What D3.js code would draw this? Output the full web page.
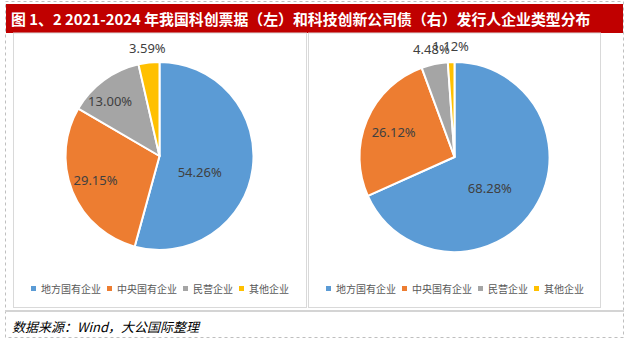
<!DOCTYPE html>
<html><head><meta charset="utf-8">
<script src="https://cdn.jsdelivr.net/npm/d3@7"></script>
<style>
html,body{margin:0;padding:0;background:#fff;}
svg{display:block;}
</style></head>
<body>
<script>
const titleText = "图 1、2 2021-2024 年我国科创票据（左）和科技创新公司债（右）发行人企业类型分布";
const sourceText = "数据来源：Wind，大公国际整理";
const categories = ["地方国有企业", "中央国有企业", "民营企业", "其他企业"];
const leftValues = [54.26, 29.15, 13.00, 3.59];
const rightValues = [68.28, 26.12, 4.48, 1.12];
const colors = ["#5B9BD5", "#ED7D31", "#A5A5A5", "#FFC000"];

// label layout (radius factor, angle nudge in degrees) per slice
const leftLabelLayout = [[0.46, 14], [0.73, 1], [0.78, -6], [1.15, 0]];
const rightLabelLayout = [[0.5, 9], [0.69, -1], [1.16, 0], [1.16, 0]];

const W = 629, H = 343;
const svg = d3.select("body").append("svg").attr("width", W).attr("height", H);

// outer dashed frame
svg.append("rect").attr("x", 5.5).attr("y", 1.5).attr("width", 618).attr("height", 336)
  .attr("fill", "none").attr("stroke", "#BFBFBF").attr("stroke-dasharray", "3,3");

// title bar
svg.append("rect").attr("x", 6).attr("y", 4).attr("width", 617).attr("height", 29).attr("fill", "#C00000");
const title = svg.append("text").attr("x", 11).attr("y", 24.5)
  .attr("fill", "#fff").attr("font-family", "'Noto Sans CJK SC', sans-serif")
  .attr("font-weight", "bold").attr("font-size", 16).text(titleText);
const tw = title.node().getComputedTextLength();
title.attr("font-size", 16 * 580 / tw);

// panels
svg.append("rect").attr("x", 13.5).attr("y", 33).attr("width", 293).attr("height", 274.5)
  .attr("fill", "none").attr("stroke", "#D9D9D9");
svg.append("rect").attr("x", 308.5).attr("y", 33).attr("width", 292).attr("height", 274.5)
  .attr("fill", "none").attr("stroke", "#D9D9D9");
// separator
svg.append("line").attr("x1", 5).attr("x2", 624).attr("y1", 311).attr("y2", 311)
  .attr("stroke", "#D4D4D4").attr("stroke-width", 2);

// source
svg.append("text").attr("x", 12).attr("y", 332)
  .attr("font-family", "'Noto Sans CJK SC', sans-serif").attr("font-style", "italic")
  .attr("font-size", 13).attr("fill", "#000").text(sourceText);

function drawPie(values, cx, cy, R, layout) {
  const g = svg.append("g").attr("transform", `translate(${cx},${cy})`);
  const pie = d3.pie().sort(null).value(d => d)(values);
  const arc = d3.arc().innerRadius(0).outerRadius(R);
  g.selectAll("path").data(pie).join("path")
    .attr("d", arc).attr("fill", (d, i) => colors[i])
    .attr("stroke", "#fff").attr("stroke-width", 2).attr("stroke-linejoin", "round");
  g.selectAll("text.lbl").data(pie).join("text").attr("class", "lbl")
    .attr("transform", (d, i) => {
      const a = (d.startAngle + d.endAngle) / 2 + layout[i][1] * Math.PI / 180;
      const r = R * layout[i][0];
      return `translate(${r * Math.sin(a)},${-r * Math.cos(a)})`;
    })
    .attr("text-anchor", "middle").attr("dy", "0.35em")
    .attr("font-family", "'Noto Sans', sans-serif").attr("font-size", 13)
    .attr("fill", "#404040")
    .text(d => d.data.toFixed(2) + "%");
}

function drawLegend(cx, y) {
  const g = svg.append("g");
  const items = [];
  let x = 0;
  categories.forEach((c, i) => {
    const it = g.append("g").attr("transform", `translate(${x},0)`);
    it.append("rect").attr("x", 0).attr("y", y - 3).attr("width", 5).attr("height", 5).attr("fill", colors[i]);
    const t = it.append("text").attr("x", 10).attr("y", y + 3.5)
      .attr("font-family", "'Noto Sans CJK SC', sans-serif").attr("font-size", 10)
      .attr("fill", "#595959").text(c);
    x += 10 + t.node().getComputedTextLength() + 6;
  });
  const total = x - 6;
  g.attr("transform", `translate(${cx - total / 2},0)`);
}

drawPie(leftValues, 159.5, 156, 94, leftLabelLayout);
drawPie(rightValues, 454.5, 157, 95, rightLabelLayout);
drawLegend(160, 289);
drawLegend(455, 289);
</script>
</body></html>
